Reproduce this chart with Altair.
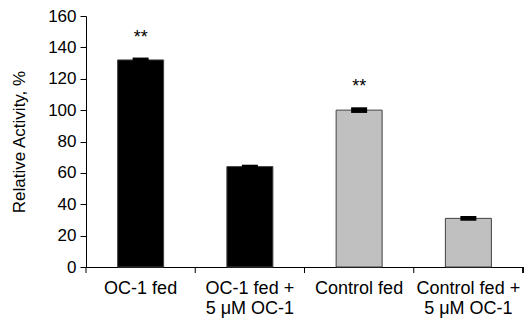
import altair as alt
import pandas as pd

# Relative enzyme activity by feeding condition
categories = ["OC-1 fed", "OC-1 fed + 5 μM OC-1", "Control fed", "Control fed + 5 μM OC-1"]
label_lines = [["OC-1 fed"], ["OC-1 fed +", "5 μM OC-1"], ["Control fed"], ["Control fed +", "5 μM OC-1"]]
groups = ["OC-1 fed", "OC-1 fed", "Control fed", "Control fed"]
activity = [132, 64, 100, 31]
sem = [1.5, 1.2, 1.8, 1.5]
significance = ["**", "", "**", ""]
y_ticks = [0, 20, 40, 60, 80, 100, 120, 140, 160]

df = pd.DataFrame({
    "cat": categories,
    "group": groups,
    "value": activity,
    "err": sem,
    "sig": significance,
})

W, H = 437, 251
FONT = "Liberation Sans"

label_map = {c: l for c, l in zip(categories, label_lines)}
label_expr = " : ".join(
    [f"datum.value == '{c}' ? {l}" for c, l in label_map.items()]
) + " : datum.value"

x_axis = alt.Axis(
    title=None,
    labelAngle=0,
    labelFontSize=18,
    labelFont=FONT,
    labelColor="black",
    labelExpr=label_expr,
    labelLineHeight=20,
    labelBaseline="top",
    labelPadding=12,
    ticks=False,
    tickSize=0,
    domainColor="black",
    domainWidth=1,
    labelLimit=0,
)
x_scale = alt.Scale(paddingInner=0, paddingOuter=0)

y_scale = alt.Scale(domain=[0, 160], nice=False)
y_axis = alt.Axis(
    title="Relative Activity, %",
    values=y_ticks,
    grid=False,
    labelOverlap=False,
    labelFontSize=17,
    labelFont=FONT,
    labelColor="black",
    labelPadding=4,
    tickSize=6,
    tickColor="black",
    domainColor="black",
    titleFont=FONT,
    titleFontSize=17,
    titleFontWeight="normal",
    titleColor="black",
    titleAngle=-90,
    titleX=-62,
    titleY=H / 2,
    titleAlign="center",
    titleBaseline="alphabetic",
)


def xcat(**kw):
    return alt.X("cat:N", sort=categories, scale=x_scale, axis=x_axis, **kw)


def yq(field):
    return alt.Y(field, scale=y_scale, axis=y_axis)


base = alt.Chart(df)

bars = base.mark_bar(size=46, stroke="#404040", strokeWidth=1).encode(
    x=xcat(),
    y=yq("value:Q"),
    fill=alt.Fill(
        "group:N",
        scale=alt.Scale(domain=["OC-1 fed", "Control fed"], range=["#000000", "#c0c0c0"]),
        legend=None,
    ),
)

errs = base.transform_calculate(
    lo="datum.value - datum.err", hi="datum.value + datum.err"
).mark_bar(size=16, color="black").encode(
    x=xcat(),
    y=yq("lo:Q"),
    y2="hi:Q",
)

stars = base.transform_calculate(
    hi="datum.value + datum.err"
).mark_text(fontSize=18, font=FONT, color="black", baseline="alphabetic", dy=-15).encode(
    x=xcat(),
    y=yq("hi:Q"),
    text="sig:N",
)

# tick marks between categories on the x axis
ticks = base.mark_rule(color="black", strokeWidth=1).encode(
    x=xcat(bandPosition=0),
    y=alt.value(H),
    y2=alt.value(H + 6),
)
end_tick = base.mark_rule(color="black", strokeWidth=1).encode(
    x=alt.value(W),
    y=alt.value(H),
    y2=alt.value(H + 6),
)

chart = alt.layer(bars, errs, stars, ticks, end_tick).properties(
    width=W,
    height=H,
    autosize=alt.AutoSizeParams(type="none"),
    padding={"left": 86, "top": 16, "right": 1, "bottom": 53},
    background="white",
).configure_view(stroke=None)

chart.save("out.html", embed_options={"renderer": "svg", "actions": False})
